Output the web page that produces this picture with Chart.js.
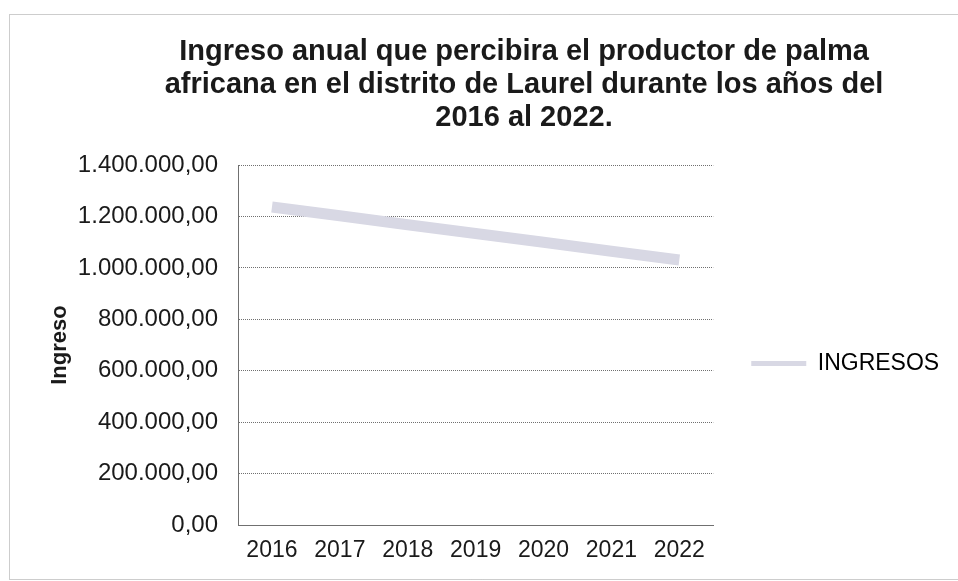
<!DOCTYPE html>
<html lang="es">
<head>
<meta charset="utf-8">
<title>Ingreso anual - palma africana</title>
<script src="https://cdn.jsdelivr.net/npm/chart.js@4.4.1/dist/chart.umd.min.js"></script>
<style>
    html, body { margin: 0; padding: 0; background: #fff; }
    canvas { display: block; }
</style>
</head>
<body>
<canvas id="ingresoChart" width="958" height="581"></canvas>
<script>
// Datos del grafico
const years = ['2016', '2017', '2018', '2019', '2020', '2021', '2022'];
const ingresos = [1237000, 1203000, 1168000, 1134000, 1100000, 1065000, 1031000];
const titleLines = [
    'Ingreso anual que percibira el productor de palma',
    'africana en el distrito de Laurel durante los años del',
    '2016 al 2022.'
];

const FONT = "'Liberation Sans', Arial, sans-serif";
const LINE_COLOR = '#d8d8e4';
const GRID_COLOR = '#707070';

const numberFormat = new Intl.NumberFormat('de-DE', {
    minimumFractionDigits: 2,
    maximumFractionDigits: 2
});

// Marco punteado alrededor de todo el grafico
const chartFrame = {
    id: 'chartFrame',
    beforeDraw(chart) {
        const ctx = chart.ctx;
        ctx.save();
        ctx.fillStyle = '#fff';
        ctx.fillRect(0, 0, chart.width, chart.height);
        ctx.strokeStyle = '#9a9a9a';
        ctx.lineWidth = 1;
        ctx.setLineDash([1, 1]);
        ctx.strokeRect(9.5, 14.5, chart.width + 20, chart.height - 16);
        ctx.restore();
    }
};

// Titulo centrado sobre el area de trazado + leyenda, y leyenda un poco mas abajo
const boxShift = {
    id: 'boxShift',
    afterLayout(chart) {
        if (chart.titleBlock) {
            chart.titleBlock.left = 100;
        }
        if (chart.legend) {
            chart.legend.top += 73;
            chart.legend.bottom += 73;
        }
    }
};

new Chart(document.getElementById('ingresoChart'), {
    type: 'line',
    data: {
        labels: years,
        datasets: [{
            label: 'INGRESOS',
            data: ingresos,
            borderColor: LINE_COLOR,
            backgroundColor: LINE_COLOR,
            borderWidth: 11,
            borderCapStyle: 'butt',
            pointRadius: 0,
            pointHoverRadius: 0,
            tension: 0,
            fill: false
        }]
    },
    options: {
        responsive: false,
        animation: false,
        devicePixelRatio: 1,
        layout: {
            padding: { left: 9, right: 10, top: 0, bottom: 0 }
        },
        plugins: {
            title: {
                display: true,
                text: titleLines,
                color: '#1a1a1a',
                font: { family: FONT, size: 29, weight: 'bold', lineHeight: 1.14 },
                padding: { top: 35, bottom: 31 }
            },
            legend: {
                position: 'right',
                labels: {
                    color: '#1a1a1a',
                    font: { family: FONT, size: 23 },
                    boxWidth: 55,
                    boxHeight: 5,
                    padding: 38,
                    generateLabels: (chart) => chart.data.datasets.map((ds, i) => ({
                        text: ds.label,
                        fillStyle: ds.borderColor,
                        strokeStyle: ds.borderColor,
                        lineWidth: 0,
                        datasetIndex: i
                    }))
                }
            },
            tooltip: { enabled: false }
        },
        scales: {
            x: {
                offset: true,
                grid: { display: false, drawTicks: false },
                border: { display: true, color: GRID_COLOR, dash: [1, 1] },
                ticks: {
                    color: '#1a1a1a',
                    font: { family: FONT, size: 23 },
                    padding: 12,
                    maxRotation: 0
                },
                afterFit: (scale) => { scale.height = 56; }
            },
            y: {
                min: 0,
                max: 1400000,
                ticks: {
                    stepSize: 200000,
                    color: '#1a1a1a',
                    font: { family: FONT, size: 24 },
                    padding: 20,
                    callback: (value) => numberFormat.format(value)
                },
                grid: {
                    color: GRID_COLOR,
                    drawTicks: false
                },
                border: { display: true, color: GRID_COLOR, dash: [1, 1] },
                title: {
                    display: true,
                    text: 'Ingreso',
                    color: '#1a1a1a',
                    font: { family: FONT, size: 22, weight: 'bold' },
                    padding: { top: 38, bottom: 0 }
                },
                afterFit: (scale) => { scale.width = 229; }
            }
        }
    },
    plugins: [chartFrame, boxShift]
});
</script>
</body>
</html>
